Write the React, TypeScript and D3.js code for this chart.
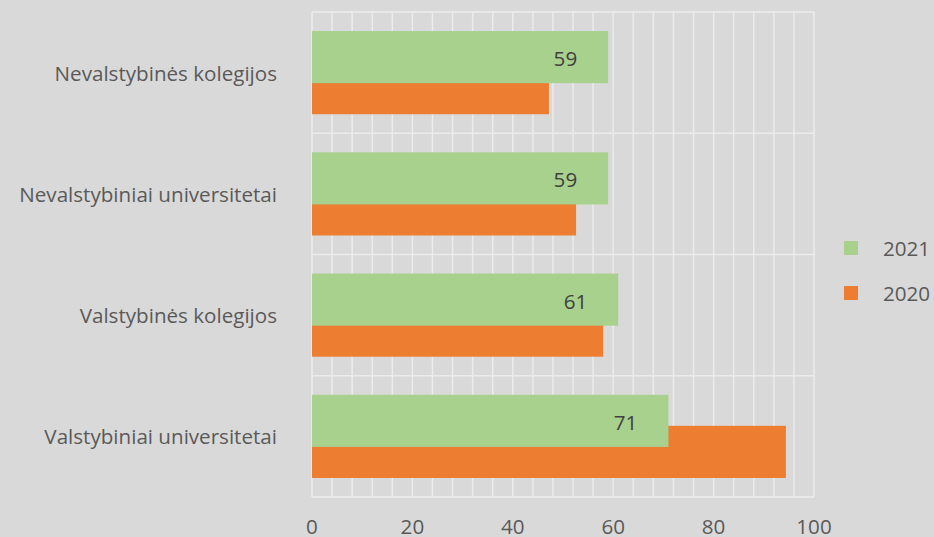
import React from "react";
import * as d3 from "d3";

const categories = [
  "Nevalstybinės kolegijos",
  "Nevalstybiniai universitetai",
  "Valstybinės kolegijos",
  "Valstybiniai universitetai",
];
const values2021 = [59, 59, 61, 71];
const values2020 = [47.2, 52.6, 58, 94.4];
const seriesNames = ["2021", "2020"];
const xTicks = [0, 20, 40, 60, 80, 100];
const gridTicks = d3.range(0, 101, 4);

const W = 934;
const H = 537;
const BG = "#d9d9d9";
const GRID = "#ececec";
const GREEN = "#a9d18e";
const ORANGE = "#ed7d31";
const TEXT = "#595959";
const FONT = "'Open Sans', sans-serif";
const FS = 20.6;

export default function App() {
  const x = d3.scaleLinear().domain([0, 100]).range([312, 814]);
  const y = d3.scaleBand<string>().domain(categories).range([12, 497]).padding(0);
  const bw = y.bandwidth();
  const barH = bw * 0.43;
  const gOff = bw * 0.157;
  const oOff = bw * 0.413;
  const bandEdges = categories.map((c) => y(c) as number).concat([497]);

  return (
    <svg width={W} height={H} style={{ position: "absolute", left: 0, top: 0, display: "block" }}>
      <rect x={0} y={0} width={W} height={H} fill={BG} />
      {gridTicks.map((t) => (
        <line key={"v" + t} x1={x(t)} x2={x(t)} y1={12} y2={497} stroke={GRID} strokeWidth={1.5} />
      ))}
      {bandEdges.map((e, i) => (
        <line key={"h" + i} x1={x(0)} x2={x(100)} y1={e} y2={e} stroke={GRID} strokeWidth={1.5} />
      ))}
      {categories.map((c, i) => {
        const y0 = y(c) as number;
        return (
          <g key={c}>
            <rect x={x(0)} y={y0 + oOff} width={x(values2020[i]) - x(0)} height={barH} fill={ORANGE} />
            <rect x={x(0)} y={y0 + gOff} width={x(values2021[i]) - x(0)} height={barH} fill={GREEN} />
            <text
              x={x(values2021[i]) - 31}
              y={y0 + gOff + barH / 2 + 1}
              textAnchor="end"
              dominantBaseline="central"
              fontFamily={FONT}
              fontSize={FS}
              fill="#404040"
            >
              {values2021[i]}
            </text>
            <text
              x={277}
              y={y0 + bw / 2}
              textAnchor="end"
              dominantBaseline="central"
              fontFamily={FONT}
              fontSize={FS}
              fill={TEXT}
            >
              {c}
            </text>
          </g>
        );
      })}
      {xTicks.map((t) => (
        <text
          key={"t" + t}
          x={x(t)}
          y={534}
          textAnchor="middle"
          fontFamily={FONT}
          fontSize={FS}
          fill={TEXT}
        >
          {t}
        </text>
      ))}
      {seriesNames.map((s, i) => (
        <g key={s}>
          <rect x={844} y={241 + i * 45} width={14} height={14} fill={i === 0 ? GREEN : ORANGE} />
          <text
            x={883}
            y={248 + i * 45}
            dominantBaseline="central"
            fontFamily={FONT}
            fontSize={FS}
            fill={TEXT}
          >
            {s}
          </text>
        </g>
      ))}
    </svg>
  );
}
